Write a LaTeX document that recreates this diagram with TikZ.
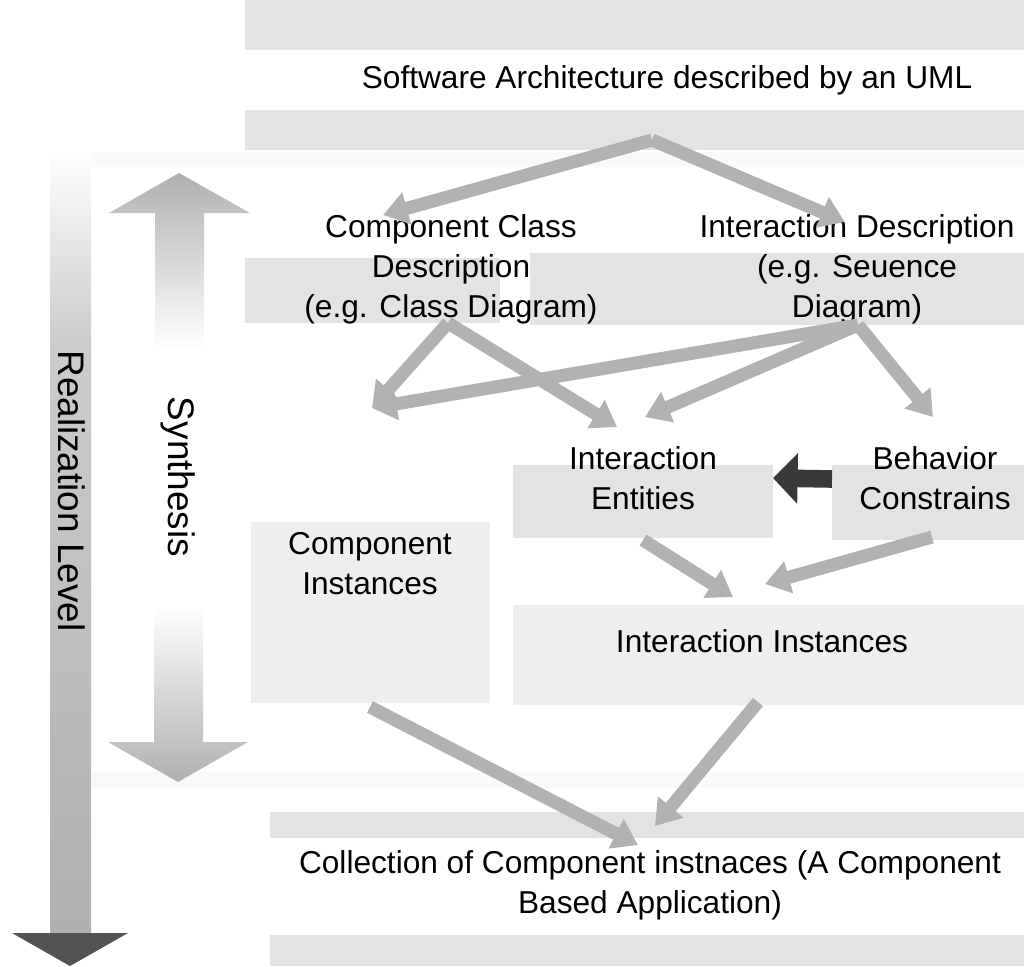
\documentclass[tikz,border=0pt]{standalone}
\usepackage{fontspec}
\setmainfont{Liberation Sans}
\usetikzlibrary{arrows.meta}

\tikzset{
  lbl/.style={font=\fontsize{9pt}{11.4pt}\selectfont, align=center, inner sep=0pt},
  vlbl/.style={font=\fontsize{10.5pt}{12pt}\selectfont, rotate=-90, inner sep=0pt},
  band/.style={fill=gray!22, draw=none},
  paleband/.style={fill=gray!13, draw=none},
  faint/.style={fill=gray!5, draw=none},
  flow/.style={line width=3.7pt, draw=gray!60, -{Triangle[length=7pt,width=9pt]}},
  bigflow/.style={line width=5pt, draw=gray!45!black, -{Triangle[length=7pt,width=14pt]}},
}

\begin{document}
\begin{tikzpicture}[x=0.01cm,y=-0.01cm]
    \useasboundingbox (0,0) rectangle (1024,966);
    %% Backgrounds
    \fill[band] (245,0) rectangle (1024,50);
    \fill[band] (245,110) rectangle (1024,150);
    \fill[faint] (50,152) rectangle (1024,167);
    \fill[band] (245,258) rectangle (500,323);
    \fill[band] (530,253) rectangle (1024,325);
    \fill[band] (513,465) rectangle (773,538);
    \fill[band] (832,465) rectangle (1024,540);
    \fill[paleband] (251,522) rectangle (490,703);
    \fill[paleband] (513,605) rectangle (1024,705);
    \fill[faint] (92,772) rectangle (1024,788);
    \fill[band] (270,812) rectangle (1024,838);
    \fill[band] (270,935) rectangle (1024,966);

    %% Realization level
    \shade[top color=white, bottom color=gray!40] (50,150) rectangle (91,340);
    \shade[top color=gray!40, bottom color=gray!62] (50,340) rectangle (91,934);
    \fill[gray!65!black] (12,933) -- (128,933) -- (70,966) -- cycle;
    \node[vlbl] (rl) at (72,491) {Realization Level};

    %% Synthesis
    \shade[top color=gray!62, bottom color=white]
        (179,173) -- (250,213) -- (204,213) -- (204,350) -- (155,350) -- (155,213) -- (109,213) -- cycle;
    \shade[top color=white, bottom color=gray!62]
        (154,605) -- (203,605) -- (203,742) -- (248,742) -- (178,782) -- (108,742) -- (154,742) -- cycle;
    \node[vlbl] (syn) at (178,477) {Synthesis};

    %% Labels
    \node[lbl] (sa) at (667,80) {Software Architecture described by an UML};
    \node[lbl] (ccd) at (451,269) {Component Class\\Description\\(e.g. Class Diagram)};
    \node[lbl] (idesc) at (857,269) {Interaction Description\\(e.g. Seuence\\Diagram)};
    \node[lbl] (ie) at (643,478) {Interaction\\Entities};
    \node[lbl] (bc) at (935,478) {Behavior\\Constrains};
    \node[lbl] (ci) at (370,564) {Component\\Instances};
    \node[lbl] (ii) at (762,641) {Interaction Instances};
    \node[lbl] (cc) at (650,885) {Collection of Component instnaces (A Component\\Based Application)};

    %% Arrow ends
    \coordinate (sa-out) at (652,140);
    \coordinate (ccd-in) at (383,215);
    \coordinate (idesc-in) at (845,222);
    \coordinate (ccd-out) at (448,323);
    \coordinate (idesc-out) at (858,325);
    \coordinate (ci-in) at (372,408);
    \coordinate (ie-in-l) at (617,427);
    \coordinate (ie-in-r) at (645,417);
    \coordinate (bc-in) at (933,417);
    \coordinate (bc-w) at (832,479);
    \coordinate (ie-e) at (773,478);
    \coordinate (ie-out) at (643,540);
    \coordinate (bc-out) at (932,537);
    \coordinate (ii-in-l) at (733,597);
    \coordinate (ii-in-r) at (765,584);
    \coordinate (ci-out) at (370,707);
    \coordinate (ii-out) at (758,702);
    \coordinate (cc-in-l) at (638,845);
    \coordinate (cc-in-r) at (655,826);

    %% Connectors
    \draw[flow] (sa-out) -- (ccd-in);
    \draw[flow] (sa-out) -- (idesc-in);
    \draw[flow] (ccd-out) -- (ci-in);
    \draw[flow] (ccd-out) -- (ie-in-l);
    \draw[flow] (idesc-out) -- (ci-in);
    \draw[flow] (idesc-out) -- (ie-in-r);
    \draw[flow] (idesc-out) -- (bc-in);
    \draw[bigflow] (bc-w) -- (ie-e);
    \draw[flow] (ie-out) -- (ii-in-l);
    \draw[flow] (bc-out) -- (ii-in-r);
    \draw[flow] (ci-out) -- (cc-in-l);
    \draw[flow] (ii-out) -- (cc-in-r);
\end{tikzpicture}
\end{document}
